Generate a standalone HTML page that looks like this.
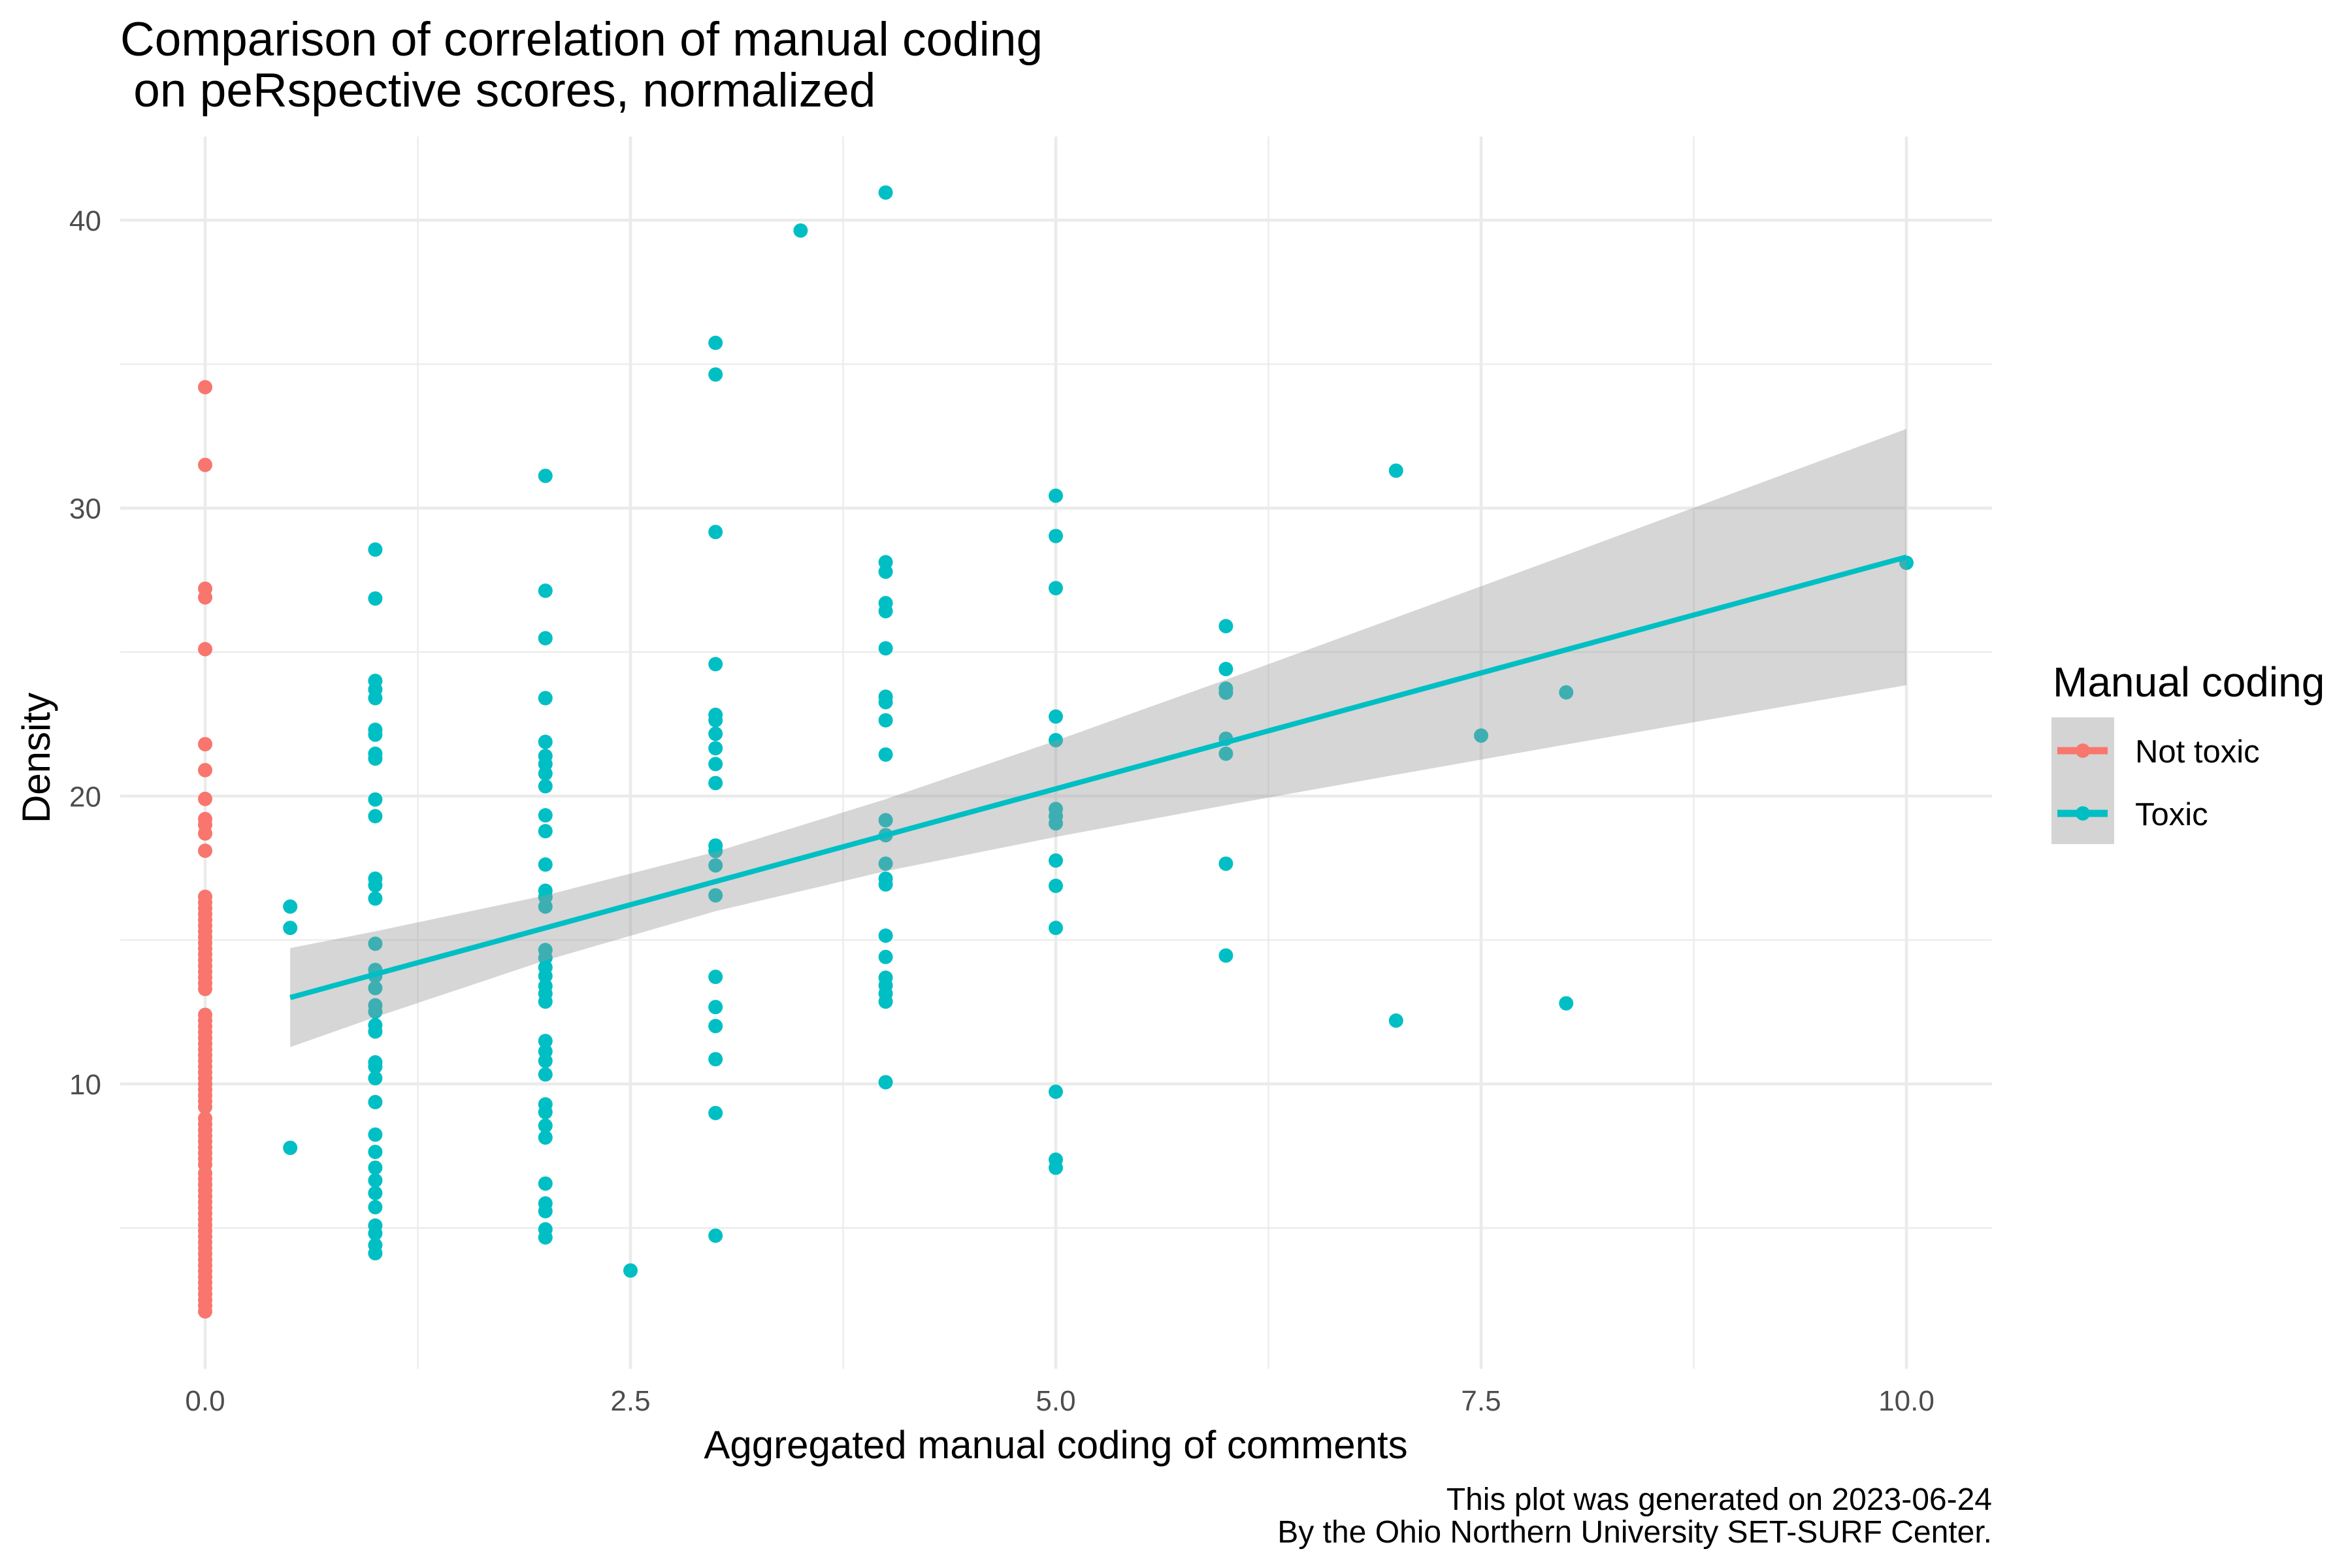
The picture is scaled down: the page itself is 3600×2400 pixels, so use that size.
<!DOCTYPE html>
<html><head><meta charset="utf-8"><style>
html,body{margin:0;padding:0;background:#fff;}
svg{display:block;font-family:"Liberation Sans",Arial,sans-serif;}
</style></head><body>
<svg id="chart" width="3600" height="2400" viewBox="0 0 3600 2400" xmlns="http://www.w3.org/2000/svg">
<rect width="3600" height="2400" fill="#fff"/>
<g id="grid"></g>
<g id="points"></g>
<g id="fit"></g>
<g id="axes"></g>
<text x="184" y="85" font-size="73" fill="#000">Comparison of correlation of manual coding</text>
<text x="184" y="163" font-size="73" fill="#000" xml:space="preserve"> on peRspective scores, normalized</text>
<text x="1616" y="2232" font-size="60" text-anchor="middle" fill="#000">Aggregated manual coding of comments</text>
<text transform="translate(76,1160) rotate(-90)" font-size="60" text-anchor="middle" fill="#000">Density</text>
<text x="3049" y="2311" font-size="48" text-anchor="end" fill="#000">This plot was generated on 2023-06-24</text>
<text x="3049" y="2361" font-size="48" text-anchor="end" fill="#000">By the Ohio Northern University SET-SURF Center.</text>
<g>
<text x="3142" y="1066" font-size="64" fill="#000">Manual coding</text>
<rect x="3140" y="1098" width="96" height="194" fill="#d4d4d4"/>
<g>
<line x1="3149" y1="1149" x2="3226" y2="1149" stroke="#F8766D" stroke-width="11"/>
<circle cx="3188" cy="1149" r="11" fill="#F8766D"/>
<text x="3268" y="1167" font-size="49" fill="#000">Not toxic</text>
</g>
<g>
<line x1="3149" y1="1245" x2="3226" y2="1245" stroke="#00BFC4" stroke-width="11"/>
<circle cx="3188" cy="1245" r="11" fill="#00BFC4"/>
<text x="3268" y="1263" font-size="49" fill="#000">Toxic</text>
</g>
</g>
</svg>
<script>
// data arrays
const notToxicX = 0;
const notToxicY = [34.2,31.5,27.2,26.9,25.1,21.8,20.9,19.9,19.2,19.0,18.7,18.1,
16.5,16.3,16.1,15.9,15.7,15.5,15.3,15.1,14.9,14.7,14.5,14.3,14.1,13.9,13.7,13.5,13.3,
12.4,12.2,12.0,11.8,11.6,11.4,11.2,11.0,10.8,10.6,10.4,10.2,10.0,9.8,9.6,9.4,9.2,
8.8,8.6,8.4,8.2,8.0,7.8,7.6,7.4,7.2,6.9,6.7,6.5,6.3,6.1,5.9,5.7,5.5,5.3,5.1,4.9,4.7,4.5,4.3,4.1,3.9,
3.7,3.5,3.3,3.1,2.9,2.7,2.5,2.3,2.1];
const toxicGroupX = [0.5,1,2,2.5,3,3.5,4,5,6,7,7.5,8,10];
const toxicY05 = [16.16,15.42,7.78];
const toxicY1 = [28.56,26.86,24.0,23.7,23.4,22.3,22.13,21.47,21.3,19.88,19.3,17.13,16.9,16.44,14.87,13.96,13.75,13.33,12.73,12.51,12.04,11.82,10.75,10.6,10.2,9.37,8.24,7.64,7.09,6.65,6.21,5.72,5.08,4.81,4.4,4.12];
const toxicY2 = [31.12,27.13,25.48,23.4,21.88,21.39,21.11,20.78,20.34,19.33,18.78,17.62,16.71,16.49,16.16,14.65,14.38,14.05,13.75,13.4,13.14,12.86,11.49,11.13,10.8,10.33,9.29,9.02,8.55,8.14,6.54,5.85,5.58,4.95,4.67];
const toxicY25 = [3.52];
const toxicY3 = [35.74,34.64,29.17,24.58,22.82,22.63,22.16,21.66,21.11,20.45,18.28,18.09,17.59,16.55,13.72,12.67,12.01,10.86,8.99,4.73];
const toxicY35 = [39.64];
const toxicY4 = [40.96,28.12,27.79,26.7,26.42,25.13,23.45,23.26,22.63,21.44,19.16,18.64,17.65,17.13,16.93,15.15,14.41,13.69,13.42,13.14,12.86,10.06];
const toxicY5 = [30.43,29.03,27.22,22.76,21.94,19.55,19.3,19.05,17.76,16.88,15.42,9.73,7.37,7.09];
const toxicY6 = [25.9,24.41,23.73,23.59,21.99,21.47,17.65,14.46];
const toxicY7 = [31.3,12.2];
const toxicY75 = [22.1];
const toxicY8 = [23.6,12.8];
const toxicY10 = [28.1];
const toxicGroups = [toxicY05,toxicY1,toxicY2,toxicY25,toxicY3,toxicY35,toxicY4,toxicY5,toxicY6,toxicY7,toxicY75,toxicY8,toxicY10];
const fitX = [0.5,1,2,3,4,5,6,7,8,9,10];
const fitY = [13.0,13.81,15.42,17.03,18.64,20.25,21.86,23.47,25.08,26.69,28.3];
const ciUpper = [14.72,15.30,16.55,18.06,19.89,21.92,24.04,26.20,28.37,30.56,32.75];
const ciLower = [11.28,12.32,14.29,16.00,17.39,18.58,19.68,20.74,21.79,22.82,23.85];
const xTicks = [0,2.5,5,7.5,10];
const xTickLabels = ["0.0","2.5","5.0","7.5","10.0"];
const xMinor = [1.25,3.75,6.25,8.75];
const yTicks = [10,20,30,40];
const yTickLabels = ["10","20","30","40"];
const yMinor = [5,15,25,35];

const NS="http://www.w3.org/2000/svg";
const PL=184, PR=3049, PT=209, PB=2095;
function sx(v){return 314+v*260.4;}
function sy(v){return 337+(40-v)*44.07;}
function mk(tag,attrs,parent){const e=document.createElementNS(NS,tag);for(const k in attrs)e.setAttribute(k,attrs[k]);parent.appendChild(e);return e;}

const grid=document.getElementById('grid');
yMinor.forEach(v=>{const l=mk('line',{x1:PL,x2:PR,y1:sy(v),y2:sy(v),stroke:'#ebebeb','stroke-width':2.3},grid);

});
xMinor.forEach(v=>{const l=mk('line',{x1:sx(v),x2:sx(v),y1:PT,y2:PB,stroke:'#ebebeb','stroke-width':2.3},grid);

});
yTicks.forEach(v=>{const l=mk('line',{x1:PL,x2:PR,y1:sy(v),y2:sy(v),stroke:'#ebebeb','stroke-width':4.6},grid);

});
xTicks.forEach(v=>{const l=mk('line',{x1:sx(v),x2:sx(v),y1:PT,y2:PB,stroke:'#ebebeb','stroke-width':4.6},grid);

});

const axes=document.getElementById('axes');
xTicks.forEach((v,i)=>{const t=mk('text',{x:sx(v),y:2159,'font-size':44,'text-anchor':'middle',fill:'#4d4d4d'},axes);t.textContent=xTickLabels[i];

});
yTicks.forEach((v,i)=>{const t=mk('text',{x:155,y:sy(v)+16,'font-size':44,'text-anchor':'end',fill:'#4d4d4d'},axes);t.textContent=yTickLabels[i];

});

const pts=document.getElementById('points');
notToxicY.forEach(v=>{const c=mk('circle',{cx:sx(notToxicX),cy:sy(v),r:11,fill:'#F8766D'},pts);

});
toxicGroups.forEach((ys,g)=>{ys.forEach(v=>{const c=mk('circle',{cx:sx(toxicGroupX[g]),cy:sy(v),r:11,fill:'#00BFC4'},pts);

});});

const fit=document.getElementById('fit');
let d='M'+fitX.map((x,i)=>sx(x)+','+sy(ciUpper[i])).join(' L');
for(let i=fitX.length-1;i>=0;i--) d+=' L'+sx(fitX[i])+','+sy(ciLower[i]);
d+=' Z';
const band=mk('path',{d:d,fill:'#999999','fill-opacity':0.4},fit);


const line=mk('polyline',{points:fitX.map((x,i)=>sx(x)+','+sy(fitY[i])).join(' '),fill:'none',stroke:'#00BFC4','stroke-width':8},fit);


</script>
</body></html>
